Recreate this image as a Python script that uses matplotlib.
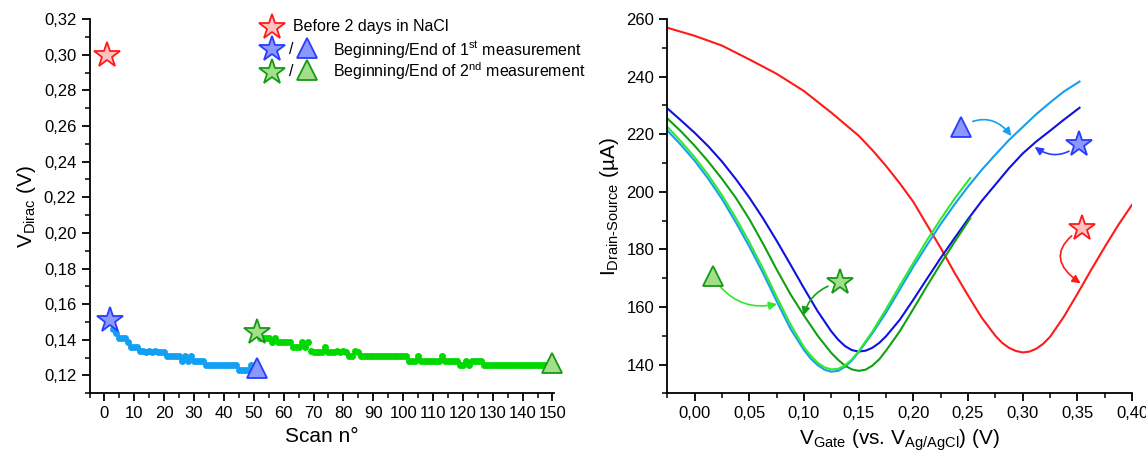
import numpy as np
import matplotlib.pyplot as plt
from matplotlib.ticker import MultipleLocator, FuncFormatter

plt.rcParams['font.family'] = ['Liberation Sans', 'DejaVu Sans']
plt.rcParams['mathtext.default'] = 'regular'

# ---- left panel: Dirac voltage vs scan number ----
scan_before = [1]
v_before = [0.300]

scan_first = np.arange(3, 51)
v_first = [0.146, 0.144, 0.141, 0.141, 0.141, 0.139, 0.136, 0.136, 0.136, 0.134,
           0.134, 0.133, 0.134, 0.133, 0.134, 0.133, 0.133, 0.133, 0.131, 0.131,
           0.131, 0.131, 0.131, 0.128, 0.131, 0.128, 0.131, 0.128, 0.128, 0.128,
           0.128, 0.126, 0.126, 0.126, 0.126, 0.126, 0.126, 0.126, 0.126, 0.126,
           0.126, 0.126, 0.123, 0.123, 0.123, 0.123, 0.126, 0.123]

scan_second = np.arange(52, 150)
v_second = [0.141, 0.141, 0.141, 0.141, 0.139, 0.141, 0.139, 0.139, 0.139, 0.139,
            0.139, 0.136, 0.136, 0.136, 0.139, 0.136, 0.139, 0.134, 0.133, 0.133,
            0.133, 0.133, 0.136, 0.133, 0.133, 0.133, 0.134, 0.133, 0.134, 0.133,
            0.131, 0.131, 0.134, 0.133, 0.131, 0.131, 0.131, 0.131, 0.131, 0.131,
            0.131, 0.131, 0.131, 0.131, 0.131, 0.131, 0.131, 0.131, 0.131, 0.131,
            0.128, 0.128, 0.128, 0.131, 0.128, 0.128, 0.128, 0.128, 0.128, 0.128,
            0.128, 0.131, 0.128, 0.128, 0.128, 0.128, 0.128, 0.126, 0.126, 0.128,
            0.126, 0.128, 0.128, 0.128, 0.128, 0.126, 0.126, 0.126, 0.126, 0.126,
            0.126, 0.126, 0.126, 0.126, 0.126, 0.126, 0.126, 0.126, 0.126, 0.126,
            0.126, 0.126, 0.126, 0.126, 0.126, 0.126, 0.126, 0.126]

start_first = (2, 0.151)
end_first = (51, 0.124)
start_second = (51, 0.1445)
end_second = (150, 0.127)

# ---- right panel: transfer curves ----
vg_red = [-0.025, 0.0, 0.025, 0.05, 0.075, 0.1, 0.125, 0.15, 0.1625, 0.175, 0.1875,
          0.2, 0.2125, 0.225, 0.2375, 0.25, 0.2625, 0.275, 0.2813, 0.2875, 0.2938,
          0.3, 0.3063, 0.3125, 0.3188, 0.325, 0.3375, 0.35, 0.3625, 0.375, 0.3875, 0.4]
i_red = [257.0, 254.2, 250.8, 246.0, 241.0, 235.0, 227.5, 219.5, 214.5, 209.0, 203.0,
         196.5, 188.5, 180.5, 172.0, 164.0, 156.3, 150.0, 147.5, 145.8, 144.7,
         144.2, 144.5, 145.5, 147.2, 149.6, 156.5, 164.5, 172.8, 180.8, 188.5, 195.5]

vg_db = [-0.025, -0.0125, 0.0, 0.0125, 0.025, 0.0375, 0.05, 0.0625, 0.075, 0.0875,
         0.1, 0.1125, 0.125, 0.1313, 0.1375, 0.1438, 0.15, 0.1563, 0.1625, 0.1688,
         0.175, 0.1875, 0.2, 0.2125, 0.225, 0.2375, 0.25, 0.2625, 0.275, 0.2875,
         0.3, 0.3125, 0.325, 0.3375, 0.352]
i_db = [229.0, 224.8, 220.5, 215.8, 210.5, 204.5, 198.0, 190.8, 183.0, 174.8,
        166.5, 158.5, 151.5, 148.6, 146.4, 145.0, 144.5, 144.8, 145.8, 147.5,
        149.8, 155.5, 162.5, 169.8, 177.0, 183.8, 190.5, 196.8, 202.5, 208.2,
        213.3, 217.5, 221.2, 225.0, 229.2]

vg_lb = [-0.025, -0.0125, 0.0, 0.0125, 0.025, 0.0375, 0.05, 0.0625, 0.075, 0.0875,
         0.1, 0.1063, 0.1125, 0.1188, 0.125, 0.1313, 0.1375, 0.1438, 0.15, 0.1625,
         0.175, 0.1875, 0.2, 0.2125, 0.225, 0.2375, 0.25, 0.2625, 0.275, 0.2875,
         0.3, 0.3125, 0.325, 0.3375, 0.352]
i_lb = [221.3, 216.3, 210.8, 204.5, 197.5, 189.5, 181.0, 171.8, 162.0, 152.5,
        145.0, 142.0, 139.8, 138.2, 137.5, 137.8, 139.2, 141.4, 144.3, 150.8,
        158.0, 166.0, 174.0, 181.5, 188.8, 195.5, 201.8, 207.6, 212.9, 218.0,
        222.5, 227.0, 231.0, 234.8, 238.3]

vg_dg = [-0.025, -0.0125, 0.0, 0.0125, 0.025, 0.0375, 0.05, 0.0625, 0.075, 0.0875,
         0.1, 0.1125, 0.125, 0.1313, 0.1375, 0.1438, 0.15, 0.1563, 0.1625, 0.1688,
         0.175, 0.1875, 0.2, 0.2125, 0.225, 0.2375, 0.252]
i_dg = [225.5, 221.0, 216.0, 210.5, 204.5, 198.0, 190.5, 182.0, 173.0, 164.5,
        157.0, 150.0, 144.0, 141.6, 139.6, 138.3, 137.8, 138.2, 139.6, 141.8,
        144.8, 151.5, 159.3, 167.3, 175.0, 182.5, 190.8]

vg_lg = [-0.025, -0.0125, 0.0, 0.0125, 0.025, 0.0375, 0.05, 0.0625, 0.075, 0.0875,
         0.1, 0.1063, 0.1125, 0.1188, 0.125, 0.1313, 0.1375, 0.1438, 0.15, 0.1625,
         0.175, 0.1875, 0.2, 0.2125, 0.225, 0.2375, 0.252]
i_lg = [222.6, 217.5, 212.0, 205.8, 198.8, 191.0, 182.5, 173.3, 163.5, 154.0,
        146.0, 143.0, 140.6, 139.0, 138.3, 138.5, 139.7, 141.8, 144.6, 151.4,
        159.2, 167.3, 175.3, 183.2, 190.5, 197.5, 204.8]

# annotation glyph positions (V, uA) and where their arrows point
tri_blue_pos, tri_blue_tip = (0.244, 222.6), (0.2896, 219.4)
star_blue_pos, star_blue_tip = (0.3517, 216.6), (0.311, 215.6)
star_red_pos, star_red_tip = (0.354, 187.3), (0.353, 168.2)
star_green_pos, star_green_tip = (0.1329, 168.5), (0.0994, 157.0)
tri_green_pos, tri_green_tip = (0.0167, 170.6), (0.0754, 161.0)

RED, RED_F = '#ff1a1a', '#ffc0c0'
BLUE, BLUE_F = '#2a3cff', '#8a98ff'
GREEN, GREEN_F = '#159a15', '#a3df8a'
DOT_BLUE = '#12a0f5'
DOT_GREEN = '#00d800'

comma = FuncFormatter(lambda v, _: f"{v:.2f}".replace('.', ','))


def style_axes(ax):
    for s in ['top', 'right']:
        ax.spines[s].set_visible(False)
    for s in ['left', 'bottom']:
        ax.spines[s].set_linewidth(1.3)
    ax.tick_params(which='major', direction='out', length=6, width=1.3, labelsize=12)
    ax.tick_params(which='minor', direction='out', length=3.5, width=1.1)


fig = plt.figure(figsize=(11.46, 4.53), dpi=100)

# left
ax1 = fig.add_axes([0.0781, 0.1318, 0.4053, 0.826])
ax1.plot(scan_first, v_first, 'o', color=DOT_BLUE, ms=5, mec='none')
ax1.plot(scan_second, v_second, 'o', color=DOT_GREEN, ms=5, mec='none')
mk = dict(mew=1.3, clip_on=False, zorder=5)
ax1.plot(*start_first, marker='*', ms=19, mfc=BLUE_F, mec=BLUE, **mk)
ax1.plot(*end_first, marker='^', ms=15, mfc=BLUE_F, mec=BLUE, **mk)
ax1.plot(*start_second, marker='*', ms=19, mfc=GREEN_F, mec=GREEN, **mk)
ax1.plot(*end_second, marker='^', ms=15, mfc=GREEN_F, mec=GREEN, **mk)
ax1.plot(scan_before, v_before, marker='*', ms=19, mfc=RED_F, mec=RED, ls='none', **mk)
ax1.set_xlim(-5, 150.5)
ax1.set_ylim(0.11, 0.32)
ax1.xaxis.set_major_locator(MultipleLocator(10))
ax1.xaxis.set_minor_locator(MultipleLocator(5))
ax1.yaxis.set_major_locator(MultipleLocator(0.02))
ax1.yaxis.set_minor_locator(MultipleLocator(0.01))
ax1.yaxis.set_major_formatter(comma)
style_axes(ax1)
ax1.set_xlabel('Scan n°', fontsize=15)
ax1.set_ylabel('V$_{Dirac}$ (V)', fontsize=15)

# legend drawn by hand (two symbols per row)
tr = ax1.transAxes
ax1.plot(0.393, 0.979, transform=tr, marker='*', ms=19, mfc=RED_F, mec=RED, **mk)
ax1.plot(0.393, 0.919, transform=tr, marker='*', ms=19, mfc=BLUE_F, mec=BLUE, **mk)
ax1.plot(0.393, 0.860, transform=tr, marker='*', ms=19, mfc=GREEN_F, mec=GREEN, **mk)
ax1.plot(0.4676, 0.922, transform=tr, marker='^', ms=15, mfc=BLUE_F, mec=BLUE, **mk)
ax1.plot(0.4676, 0.863, transform=tr, marker='^', ms=15, mfc=GREEN_F, mec=GREEN, **mk)
ax1.text(0.434, 0.919, '/', transform=tr, fontsize=11.5, va='center', ha='center')
ax1.text(0.434, 0.860, '/', transform=tr, fontsize=11.5, va='center', ha='center')
ax1.text(0.439, 0.979, 'Before 2 days in NaCl', transform=tr, fontsize=11.5, va='center')
ax1.text(0.525, 0.919, 'Beginning/End of 1$^{st}$ measurement', transform=tr, fontsize=11.5, va='center')
ax1.text(0.525, 0.860, 'Beginning/End of 2$^{nd}$ measurement', transform=tr, fontsize=11.5, va='center')

# right
ax2 = fig.add_axes([0.5823, 0.1318, 0.4055, 0.826])
ax2.plot(vg_red, i_red, color=RED, lw=1.5)
ax2.plot(vg_db, i_db, color='#1010e0', lw=1.5)
ax2.plot(vg_lb, i_lb, color='#14a0f0', lw=1.5)
ax2.plot(vg_dg, i_dg, color='#12a012', lw=1.5)
ax2.plot(vg_lg, i_lg, color='#30e830', lw=1.5)
ax2.set_xlim(-0.025, 0.40)
ax2.set_ylim(130, 260)
ax2.xaxis.set_major_locator(MultipleLocator(0.05))
ax2.xaxis.set_minor_locator(MultipleLocator(0.025))
ax2.yaxis.set_major_locator(MultipleLocator(20))
ax2.yaxis.set_minor_locator(MultipleLocator(10))
ax2.xaxis.set_major_formatter(comma)
style_axes(ax2)
ax2.set_xlabel('V$_{Gate}$ (vs. V$_{Ag/AgCl}$) (V)', fontsize=15)
ax2.set_ylabel('I$_{Drain\u2010Source}$ (µA)', fontsize=15)

ax2.plot(*tri_blue_pos, marker='^', ms=15, mfc=BLUE_F, mec=BLUE, **mk)
ax2.plot(*star_blue_pos, marker='*', ms=19, mfc=BLUE_F, mec=BLUE, **mk)
ax2.plot(*star_red_pos, marker='*', ms=19, mfc=RED_F, mec=RED, **mk)
ax2.plot(*star_green_pos, marker='*', ms=19, mfc=GREEN_F, mec=GREEN, **mk)
ax2.plot(*tri_green_pos, marker='^', ms=15, mfc=GREEN_F, mec=GREEN, **mk)


def arrow(tip, start, color, rad):
    ax2.annotate('', xy=tip, xytext=start,
                 arrowprops=dict(arrowstyle='-|>', color=color, lw=1.2, mutation_scale=12,
                                 shrinkA=9, shrinkB=0,
                                 connectionstyle=f'arc3,rad={rad}'))


arrow(tri_blue_tip, tri_blue_pos, '#14a0f0', -0.45)
arrow(star_blue_tip, star_blue_pos, '#2a3cff', -0.4)
arrow(star_red_tip, star_red_pos, RED, 0.75)
arrow(star_green_tip, star_green_pos, '#12a012', 0.3)
arrow(tri_green_tip, tri_green_pos, '#30e830', 0.35)

fig.savefig('out.png', dpi=100)
